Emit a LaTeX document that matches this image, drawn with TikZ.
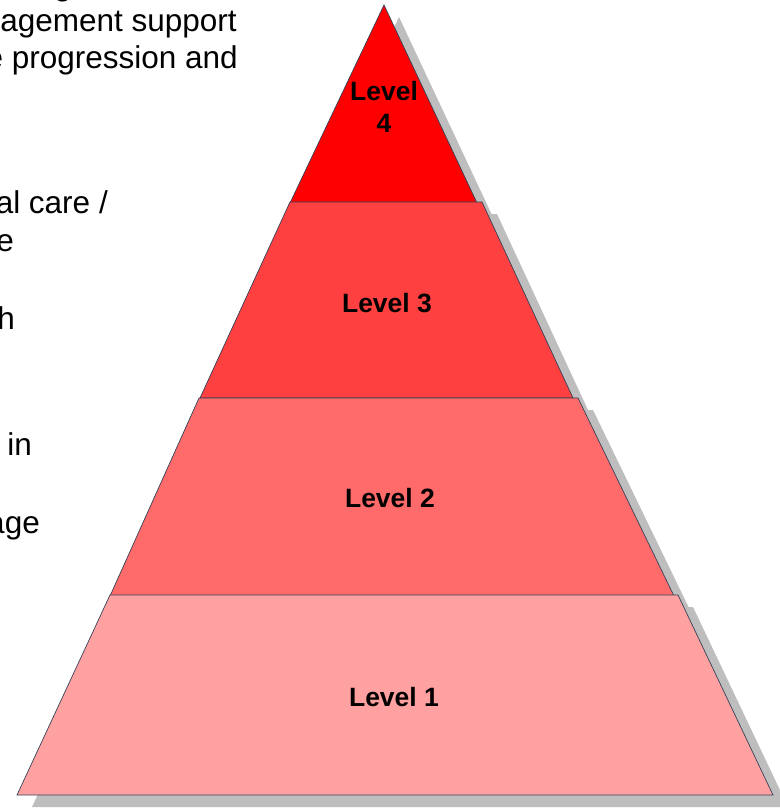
\documentclass[tikz,border=0pt]{standalone}
\usepackage{fontspec}
\setmainfont{Liberation Sans}
\definecolor{lvlfour}{RGB}{255,0,0}
\definecolor{lvlthree}{RGB}{255,64,64}
\definecolor{lvltwo}{RGB}{255,106,106}
\definecolor{lvlone}{RGB}{255,161,161}
\definecolor{edgeblue}{RGB}{52,66,88}
\definecolor{shadowgray}{RGB}{190,190,190}
\begin{document}
\begin{tikzpicture}[x=1pt,y=-1pt,
  tier/.style={draw=edgeblue, line width=0.7pt, line join=miter},
  drop/.style={fill=shadowgray, shift={(15,12)}},
  lvl/.style={font=\fontsize{26.5}{32}\selectfont\bfseries, align=center, inner sep=0pt},
  side/.style={font=\fontsize{31.5}{36}\selectfont, inner sep=0pt, anchor=base east}]
\useasboundingbox (0,0) rectangle (779,808);

% drop shadows of the four tiers
\fill[drop] (384,5) -- (477,203) -- (290,203) -- cycle;
\fill[drop] (290,202) -- (482,202) -- (573,398) -- (200,398) -- cycle;
\fill[drop] (199,398) -- (578,398) -- (674,596) -- (110,596) -- cycle;
\fill[drop] (110,595) -- (678,595) -- (773,795) -- (17,795) -- cycle;

% the tiers, top to bottom
\filldraw[tier, fill=lvlfour] (384,5) -- (477,203) -- (290,203) -- cycle;
\filldraw[tier, fill=lvlthree] (290,202) -- (482,202) -- (573,398) -- (200,398) -- cycle;
\filldraw[tier, fill=lvltwo] (199,398) -- (578,398) -- (674,596) -- (110,596) -- cycle;
\filldraw[tier, fill=lvlone] (110,595) -- (678,595) -- (773,795) -- (17,795) -- cycle;

% tier labels
\node[lvl, anchor=base] (l4) at (384,132) {Level\\4};
\node[lvl, anchor=base] (l3) at (387,312) {Level 3};
\node[lvl, anchor=base] (l2) at (390,507) {Level 2};
\node[lvl, anchor=base] (l1) at (394,706) {Level 1};

% side text, cut at the left and top edges of the page
\node[side, anchor=base] (t0) at (63,-4) {g};
\node[side] (t1) at (237,32) {agement support};
\node[side] (t2) at (238,69) {e progression and};
\node[side] (t3) at (108,213) {al care /};
\node[side] (t4) at (14,251) {e};
\node[side] (t5) at (15,329) {h};
\node[side] (t6) at (32,455) {in};
\node[side] (t7) at (40,533) {age};
\end{tikzpicture}
\end{document}
